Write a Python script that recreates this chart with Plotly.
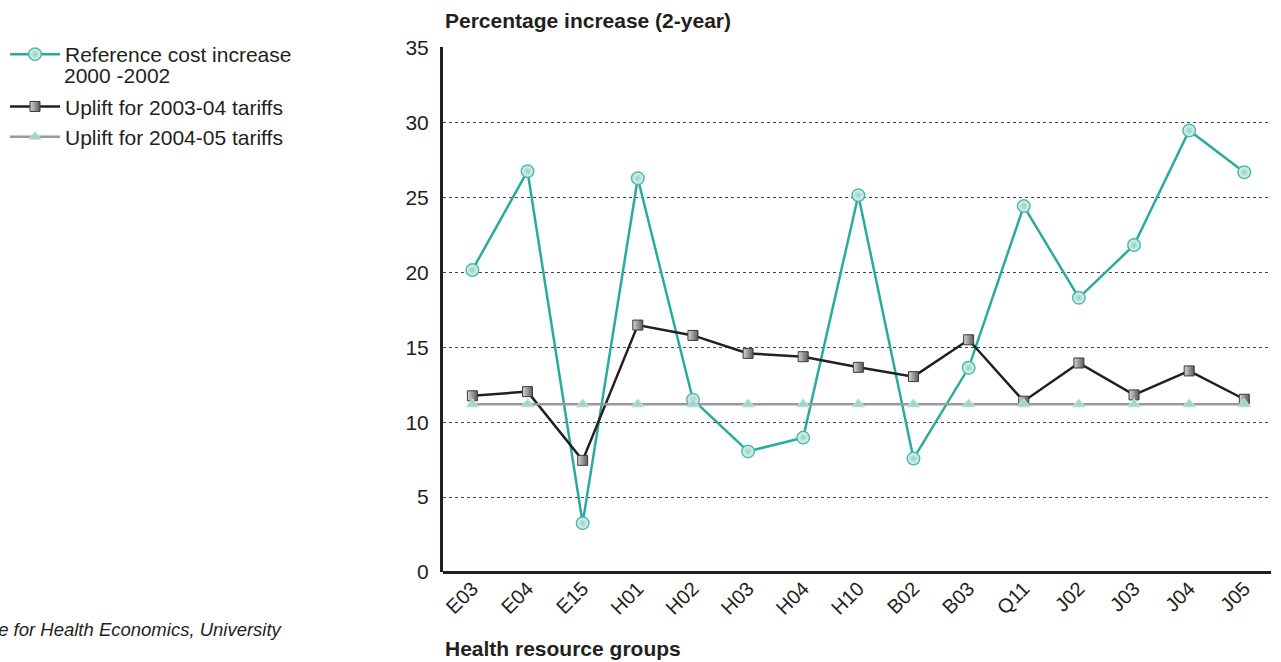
import plotly.graph_objects as go

categories = ["E03", "E04", "E15", "H01", "H02", "H03", "H04", "H10",
              "B02", "B03", "Q11", "J02", "J03", "J04", "J05"]
reference_cost = [20.16, 26.75, 3.26, 26.28, 11.5, 8.05, 8.97, 25.15,
                  7.57, 13.63, 24.42, 18.3, 21.82, 29.47, 26.68]
uplift_2003_04 = [11.76, 12.04, 7.45, 16.48, 15.79, 14.59, 14.37, 13.66,
                  13.04, 15.5, 11.4, 13.95, 11.82, 13.42, 11.53]
uplift_2004_05 = [11.2] * 15
y_ticks = [0, 5, 10, 15, 20, 25, 30, 35]

FONT = "Liberation Sans, Arial, Helvetica, sans-serif"
TXT = "#231f20"
W, H = 1281, 662
L, R, T, B = 443, 10, 47, 90
PW = W - L - R
PH = H - T - B


def px_x(p):
    return (p - L) / PW


def px_y(p):
    return (H - B - p) / PH


fig = go.Figure()
fig.add_trace(go.Scatter(
    x=categories, y=reference_cost, mode="lines+markers",
    name="Reference cost increase", legendgroup="g1",
    line=dict(color="#2aab9d", width=2.5),
    marker=dict(symbol="circle", size=12.5, color="#e6f5f2",
                gradient=dict(type="radial", color="#8fd0c6"),
                line=dict(color="#4fbaac", width=1.5)),
))
fig.add_trace(go.Scatter(
    x=categories, y=uplift_2003_04, mode="lines+markers",
    name="Uplift for 2003-04 tariffs", legendgroup="g2",
    line=dict(color="#231f20", width=2.5),
    marker=dict(symbol="square", size=10, color="#d6d6d6",
                gradient=dict(type="horizontal", color="#5a5a5a"),
                line=dict(color="#3a3a3a", width=1)),
))
fig.add_trace(go.Scatter(
    x=categories, y=uplift_2004_05, mode="lines+markers",
    name="Uplift for 2004-05 tariffs", legendgroup="g2",
    line=dict(color="#9a9a9a", width=2.5),
    marker=dict(symbol="triangle-up", size=11, color="#9fd6cd",
                line=dict(color="#c8e8e3", width=1)),
))

fig.update_layout(
    width=W, height=H,
    margin=dict(l=L, r=R, t=T, b=B, autoexpand=False),
    paper_bgcolor="white", plot_bgcolor="white",
    font=dict(family=FONT, color=TXT, size=21),
    showlegend=True,
    legend=dict(xref="container", yref="container",
                x=5 / W, y=1 - 34 / H, xanchor="left", yanchor="top",
                font=dict(size=21, color=TXT), bgcolor="rgba(0,0,0,0)",
                itemwidth=50, valign="top", traceorder="grouped",
                tracegroupgap=22),
    xaxis=dict(
        type="category", range=[-0.533, 14.484],
        tickangle=-45, tickfont=dict(size=20, color=TXT),
        showgrid=False, showline=False, ticks="", zeroline=False,
        automargin=False,
    ),
    yaxis=dict(
        range=[0, 35.04], tickvals=y_ticks,
        tickfont=dict(size=21, color=TXT),
        showgrid=True, gridcolor="#444444", griddash="dot", gridwidth=1.2,
        showline=True, linecolor=TXT, linewidth=3,
        zeroline=True, zerolinecolor=TXT, zerolinewidth=3,
        ticks="", ticklabelstandoff=7, automargin=False,
    ),
    annotations=[
        dict(text="<b>Percentage increase (2-year)</b>", xref="paper", yref="paper",
             x=0, y=1.0, xanchor="left", yanchor="bottom", yshift=13,
             showarrow=False, font=dict(size=21, color=TXT)),
        dict(text="<b>Health resource groups</b>", xref="paper", yref="paper",
             x=0, y=0, xanchor="left", yanchor="top", yshift=-63,
             showarrow=False, font=dict(size=21, color=TXT)),
        dict(text="2000 -2002", xref="paper", yref="paper",
             x=px_x(62), y=px_y(76), xanchor="left", yanchor="middle",
             showarrow=False, font=dict(size=21, color=TXT)),
        dict(text="<i>Source: Centre for Health Economics, University</i>",
             xref="paper", yref="paper", x=px_x(285), y=0,
             xanchor="right", yanchor="middle", yshift=-57,
             showarrow=False, font=dict(size=18.5, color=TXT)),
    ],
)

fig.write_html("out.html")
